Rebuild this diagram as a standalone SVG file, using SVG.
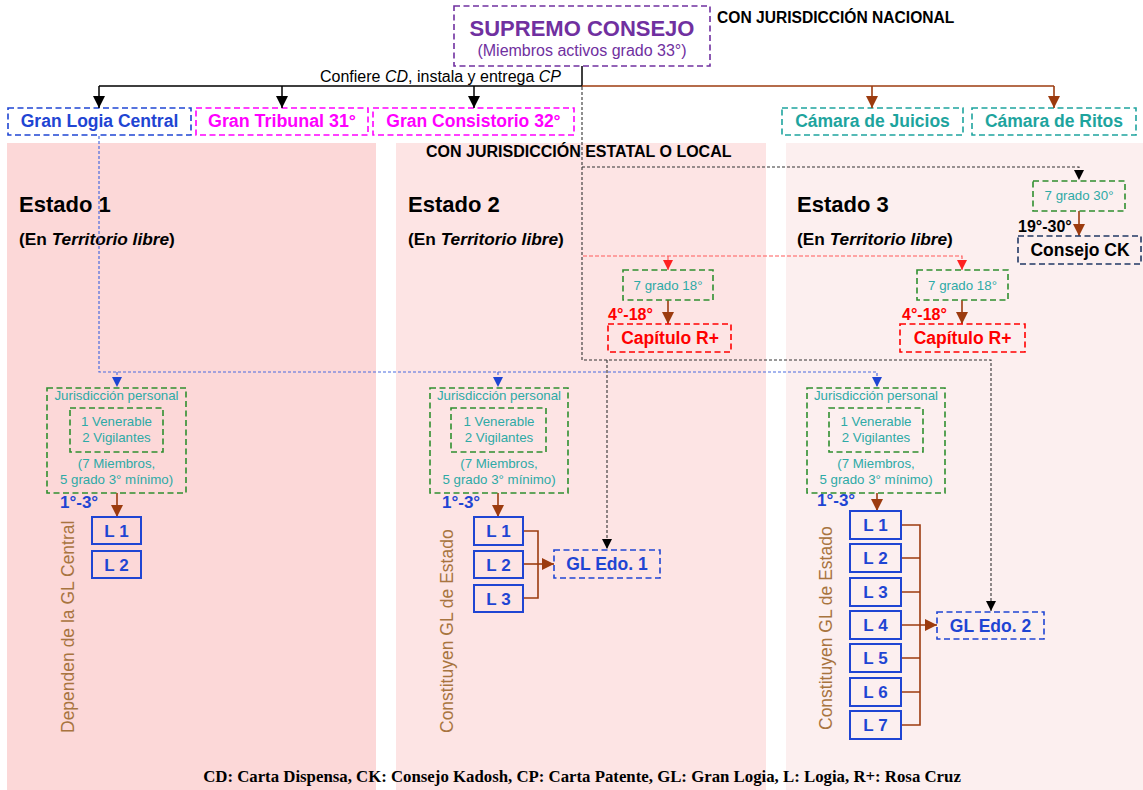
<svg xmlns="http://www.w3.org/2000/svg" width="1143" height="790" viewBox="0 0 1143 790">
<style>
text{font-family:"Liberation Sans",Arial,sans-serif}
.b{font-weight:bold}
.c{text-anchor:middle}
.i{font-style:italic}
.box{fill:none;stroke-width:1.6;stroke-dasharray:6 3.5}
.lbox{fill:none;stroke:#1f45d3;stroke-width:2}
.blue{fill:#1f45d3}
.mag{fill:#ff00ff}
.teal{fill:#1ea49e}
.lt{fill:#2eaaa6;font-size:13.3px}
.green{stroke:#2f8f2f}
.state{font-size:22px;font-weight:bold;fill:#000}
.terr{font-size:17.3px;font-weight:bold;fill:#000}
.vert{font-size:17.5px;fill:#a8743f}
.lt2{font-size:17px;font-weight:bold;fill:#1f45d3}
.conn{fill:none}
.blk{stroke:#000;stroke-width:1.5}
.brn{stroke:#9c3b0f;stroke-width:1.6}
.dot{stroke:#333;stroke-width:1.1;stroke-dasharray:3 2}
.red{stroke:#ff5a5a;stroke-width:1.2;stroke-dasharray:4 2}
.bld{stroke:#4a6be0;stroke-width:1.2;stroke-dasharray:3 2}
</style>
<defs>
<marker id="aK" markerUnits="userSpaceOnUse" markerWidth="12" markerHeight="12" refX="12" refY="6" orient="auto"><path d="M0,0 L12,6 L0,12 z" fill="#000"/></marker>
<marker id="aB" markerUnits="userSpaceOnUse" markerWidth="12" markerHeight="12" refX="12" refY="6" orient="auto"><path d="M0,0 L12,6 L0,12 z" fill="#9c3b0f"/></marker>
<marker id="aD" markerUnits="userSpaceOnUse" markerWidth="10" markerHeight="10" refX="10" refY="5" orient="auto"><path d="M0,0 L10,5 L0,10 z" fill="#000"/></marker>
<marker id="aR" markerUnits="userSpaceOnUse" markerWidth="10" markerHeight="10" refX="10" refY="5" orient="auto"><path d="M0,0 L10,5 L0,10 z" fill="#ff2020"/></marker>
<marker id="aL" markerUnits="userSpaceOnUse" markerWidth="10" markerHeight="10" refX="10" refY="5" orient="auto"><path d="M0,0 L10,5 L0,10 z" fill="#1f45d3"/></marker>
</defs>

<g id="panels">
<rect x="7" y="143" width="369" height="647" fill="#fcd8d8"/>
<rect x="396" y="143" width="370" height="647" fill="#fde4e4"/>
<rect x="786" y="143" width="357" height="647" fill="#fcefef"/>
</g>

<g id="supremo-consejo">
<rect x="454" y="6" width="256" height="60" class="box" stroke="#7030a0"/>
<text x="582" y="36" class="b c" font-size="22" fill="#7030a0">SUPREMO CONSEJO</text>
<text x="582" y="56" class="c" font-size="16" fill="#7030a0">(Miembros activos grado 33°)</text>
</g>
<g id="label-nacional"><text x="717" y="23" class="b" font-size="15.6">CON JURISDICCIÓN  NACIONAL</text></g>
<g id="label-estatal"><text x="426" y="157" class="b" font-size="16">CON JURISDICCIÓN ESTATAL O LOCAL</text></g>

<g id="gran-logia-central">
<rect x="8" y="108" width="183" height="27" class="box" stroke="#1f45d3"/>
<text x="99.5" y="127" class="b c blue" font-size="17.5">Gran Logia Central</text>
</g>
<g id="gran-tribunal">
<rect x="196" y="108" width="172" height="27" class="box" stroke="#ff00ff"/>
<text x="282" y="127" class="b c mag" font-size="17.5" textLength="148" lengthAdjust="spacingAndGlyphs">Gran Tribunal 31°</text>
</g>
<g id="gran-consistorio">
<rect x="373" y="108" width="201" height="27" class="box" stroke="#ff00ff"/>
<text x="473.5" y="127" class="b c mag" font-size="17.5">Gran Consistorio 32°</text>
</g>
<g id="camara-juicios">
<rect x="782" y="108" width="181" height="27" class="box" stroke="#1ea49e"/>
<text x="872.5" y="127" class="b c teal" font-size="17.5">Cámara de Juicios</text>
</g>
<g id="camara-ritos">
<rect x="972" y="108" width="164" height="27" class="box" stroke="#1ea49e"/>
<text x="1054" y="127" class="b c teal" font-size="17.5">Cámara de Ritos</text>
</g>

<g id="estado-1">
<text x="19" y="212" class="state">Estado 1</text>
<text x="19" y="245" class="terr">(En <tspan class="i">Territorio libre</tspan>)</text>
</g>
<g id="estado-2">
<text x="408" y="212" class="state">Estado 2</text>
<text x="408" y="245" class="terr">(En <tspan class="i">Territorio libre</tspan>)</text>
</g>
<g id="estado-3">
<text x="797" y="212" class="state">Estado 3</text>
<text x="797" y="245" class="terr">(En <tspan class="i">Territorio libre</tspan>)</text>
</g>

<g id="connectors">
<path class="conn blk" d="M582,66 V86 H99"/>
<path class="conn blk" d="M99,86 V108" marker-end="url(#aK)"/>
<path class="conn blk" d="M282,86 V108" marker-end="url(#aK)"/>
<path class="conn blk" d="M474,86 V108" marker-end="url(#aK)"/>
<path class="conn brn" d="M582,86 H1054"/>
<path class="conn brn" d="M872,86 V108" marker-end="url(#aB)"/>
<path class="conn brn" d="M1054,86 V108" marker-end="url(#aB)"/>
<text x="320" y="82" font-size="16">Confiere <tspan class="i">CD</tspan>, instala y entrega <tspan class="i">CP</tspan></text>

<path class="conn dot" d="M582,87 V360 H991 V611" marker-end="url(#aD)"/>
<path class="conn dot" d="M582,167 H1079 V180" marker-end="url(#aD)"/>
<path class="conn dot" d="M607,360 V549" marker-end="url(#aD)"/>
<path class="conn red" d="M583,256 H962 V270" marker-end="url(#aR)"/>
<path class="conn red" d="M668,256 V270" marker-end="url(#aR)"/>
<path class="conn bld" d="M99,136 V372 H877 V387" marker-end="url(#aL)"/>
<path class="conn bld" d="M117,372 V387" marker-end="url(#aL)"/>
<path class="conn bld" d="M498,372 V387" marker-end="url(#aL)"/>

<path class="conn brn" d="M1079,211 V236" marker-end="url(#aB)"/>
<path class="conn brn" d="M668,300 V324" marker-end="url(#aB)"/>
<path class="conn brn" d="M962,300 V324" marker-end="url(#aB)"/>
<path class="conn brn" d="M117,493 V517" marker-end="url(#aB)"/>
<path class="conn brn" d="M498,493 V517" marker-end="url(#aB)"/>
<path class="conn brn" d="M877,493 V511" marker-end="url(#aB)"/>

<path class="conn brn" d="M523,531 H538 V598 H523"/>
<path class="conn brn" d="M523,564 H554" marker-end="url(#aB)"/>
<path class="conn brn" d="M901,525 H920 V725 H901 M901,558 H920 M901,592 H920 M901,658 H920 M901,692 H920"/>
<path class="conn brn" d="M901,625 H937" marker-end="url(#aB)"/>
</g>

<g id="grado-30">
<rect x="1033" y="181" width="92" height="30" class="box green"/>
<text x="1079" y="200" class="c lt">7 grado 30°</text>
</g>
<g id="label-19-30"><text x="1018" y="232" class="b" font-size="16">19°-30°</text></g>
<g id="consejo-ck">
<rect x="1018" y="236" width="123" height="28" class="box" stroke="#203864"/>
<text x="1080" y="256" class="b c" font-size="17.5">Consejo CK</text>
</g>

<g id="grado-18-a">
<rect x="623" y="270" width="90" height="30" class="box green"/>
<text x="668" y="290" class="c lt">7 grado 18°</text>
</g>
<g id="label-4-18-a"><text x="608" y="320" class="b" font-size="16" fill="#ff0000">4°-18°</text></g>
<g id="capitulo-a">
<rect x="608" y="324" width="123" height="28" class="box" stroke="#ff0000"/>
<text x="670" y="344" class="b c" font-size="17.5" fill="#ff0000">Capítulo R+</text>
</g>
<g id="grado-18-b">
<rect x="917" y="270" width="91" height="30" class="box green"/>
<text x="962.5" y="290" class="c lt">7 grado 18°</text>
</g>
<g id="label-4-18-b"><text x="902" y="320" class="b" font-size="16" fill="#ff0000">4°-18°</text></g>
<g id="capitulo-b">
<rect x="900" y="324" width="125" height="28" class="box" stroke="#ff0000"/>
<text x="962.5" y="344" class="b c" font-size="17.5" fill="#ff0000">Capítulo R+</text>
</g>

<g id="jurisdiccion-1">
<rect x="47" y="388" width="139" height="105" class="box green"/>
<text x="116.5" y="400" class="c lt">Jurisdicción personal</text>
<rect x="70" y="408" width="93" height="44" class="box green"/>
<text x="116.5" y="426" class="c lt">1 Venerable</text>
<text x="116.5" y="442" class="c lt">2 Vigilantes</text>
<text x="116.5" y="468" class="c lt">(7 Miembros,</text>
<text x="116.5" y="484" class="c lt">5 grado 3° mínimo)</text>
</g>
<g id="jurisdiccion-2">
<rect x="430" y="388" width="138" height="105" class="box green"/>
<text x="499" y="400" class="c lt">Jurisdicción personal</text>
<rect x="451" y="408" width="95" height="44" class="box green"/>
<text x="499" y="426" class="c lt">1 Venerable</text>
<text x="499" y="442" class="c lt">2 Vigilantes</text>
<text x="499" y="468" class="c lt">(7 Miembros,</text>
<text x="499" y="484" class="c lt">5 grado 3° mínimo)</text>
</g>
<g id="jurisdiccion-3">
<rect x="807" y="388" width="138" height="105" class="box green"/>
<text x="876" y="400" class="c lt">Jurisdicción personal</text>
<rect x="829" y="408" width="94" height="44" class="box green"/>
<text x="876" y="426" class="c lt">1 Venerable</text>
<text x="876" y="442" class="c lt">2 Vigilantes</text>
<text x="876" y="468" class="c lt">(7 Miembros,</text>
<text x="876" y="484" class="c lt">5 grado 3° mínimo)</text>
</g>

<g id="grados-1-3" class="b blue" font-size="17">
<text x="60" y="508">1°-3°</text>
<text x="442" y="508">1°-3°</text>
<text x="817" y="506">1°-3°</text>
</g>

<g id="logias-estado-1">
<g id="e1-l1"><rect x="92" y="517" width="49" height="27" class="lbox"/><text x="116.5" y="537" class="c lt2">L 1</text></g>
<g id="e1-l2"><rect x="92" y="551" width="49" height="27" class="lbox"/><text x="116.5" y="571" class="c lt2">L 2</text></g>
</g>
<g id="logias-estado-2">
<g id="e2-l1"><rect x="474" y="517" width="49" height="28" class="lbox"/><text x="498.5" y="537" class="c lt2">L 1</text></g>
<g id="e2-l2"><rect x="474" y="551" width="49" height="27" class="lbox"/><text x="498.5" y="571" class="c lt2">L 2</text></g>
<g id="e2-l3"><rect x="474" y="585" width="49" height="27" class="lbox"/><text x="498.5" y="605" class="c lt2">L 3</text></g>
</g>
<g id="logias-estado-3">
<g id="e3-l1"><rect x="850" y="511" width="51" height="28" class="lbox"/><text x="875.5" y="531" class="c lt2">L 1</text></g>
<g id="e3-l2"><rect x="850" y="544" width="51" height="28" class="lbox"/><text x="875.5" y="564" class="c lt2">L 2</text></g>
<g id="e3-l3"><rect x="850" y="578" width="51" height="28" class="lbox"/><text x="875.5" y="598" class="c lt2">L 3</text></g>
<g id="e3-l4"><rect x="850" y="611" width="51" height="28" class="lbox"/><text x="875.5" y="631" class="c lt2">L 4</text></g>
<g id="e3-l5"><rect x="850" y="644" width="51" height="28" class="lbox"/><text x="875.5" y="664" class="c lt2">L 5</text></g>
<g id="e3-l6"><rect x="850" y="678" width="51" height="28" class="lbox"/><text x="875.5" y="698" class="c lt2">L 6</text></g>
<g id="e3-l7"><rect x="850" y="711" width="51" height="28" class="lbox"/><text x="875.5" y="731" class="c lt2">L 7</text></g>
</g>

<g id="gl-edo-1">
<rect x="554" y="550" width="106" height="28" class="box" stroke="#1f45d3"/>
<text x="607" y="570" class="b c blue" font-size="17.5">GL Edo. 1</text>
</g>
<g id="gl-edo-2">
<rect x="937" y="612" width="107" height="27" class="box" stroke="#1f45d3"/>
<text x="990.5" y="632" class="b c blue" font-size="17.5">GL Edo. 2</text>
</g>

<g id="vertical-labels">
<text transform="translate(74,733) rotate(-90)" class="vert">Dependen de la GL Central</text>
<text transform="translate(453,733) rotate(-90)" class="vert">Constituyen GL de Estado</text>
<text transform="translate(832,730) rotate(-90)" class="vert">Constituyen GL de Estado</text>
</g>

<g id="legend">
<text x="582" y="782" class="c" font-weight="bold" font-size="16.8" style="font-family:'Liberation Serif','Times New Roman',serif">CD: Carta Dispensa, CK: Consejo Kadosh, CP: Carta Patente, GL: Gran Logia, L: Logia, R+: Rosa Cruz</text>
</g>
</svg>
